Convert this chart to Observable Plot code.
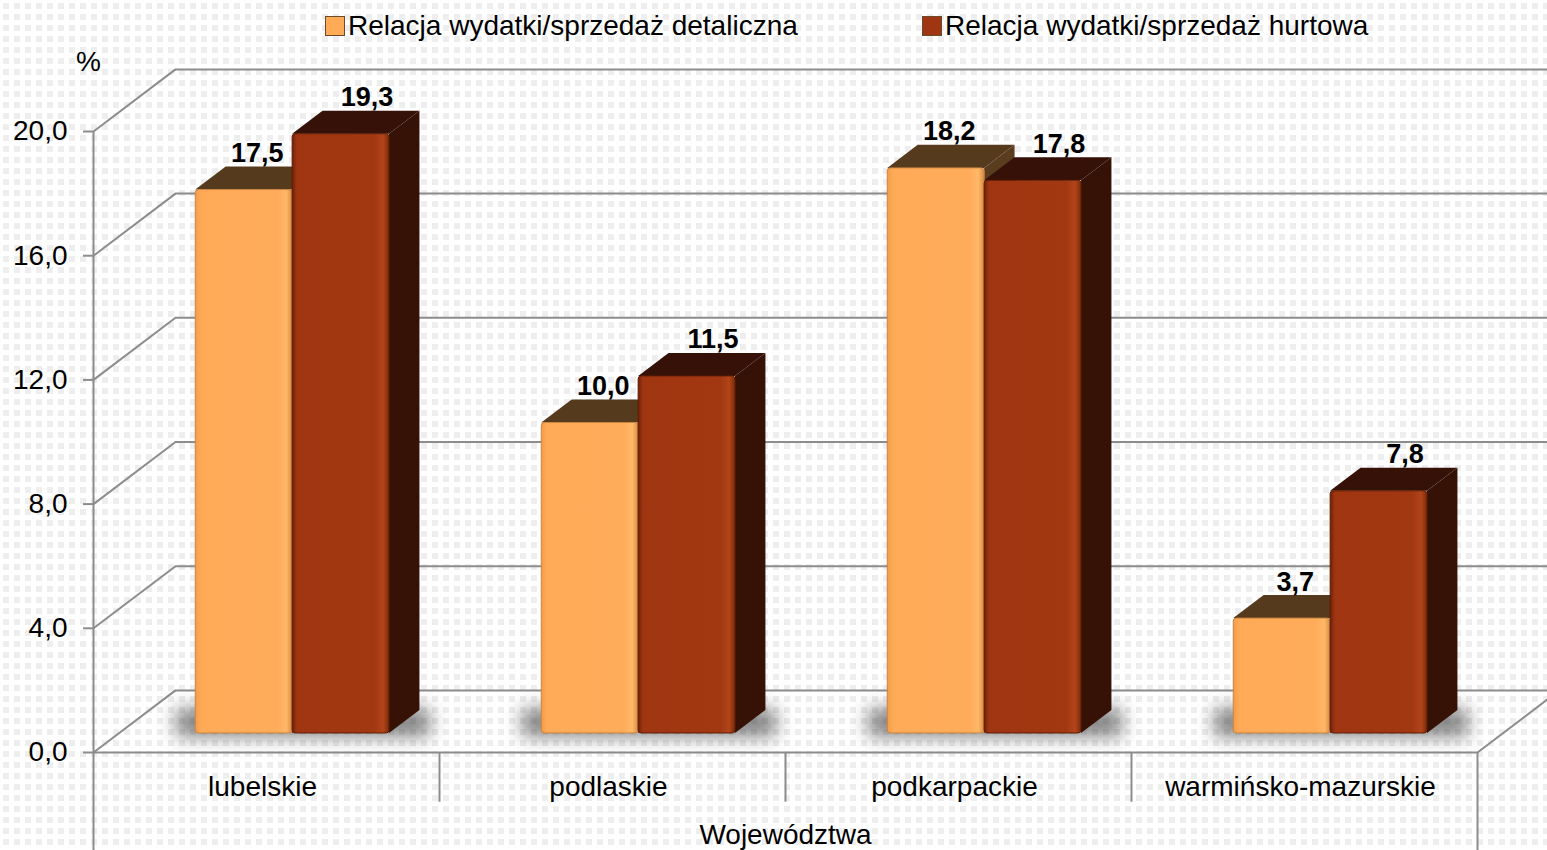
<!DOCTYPE html>
<html><head><meta charset="utf-8">
<script src="https://cdn.jsdelivr.net/npm/d3@7"></script>
<script src="https://cdn.jsdelivr.net/npm/@observablehq/plot@0.6"></script>
<style>
html,body{margin:0;padding:0;overflow:hidden;}
body{width:1547px;height:850px;background-color:#fff;
background-image:url("data:image/svg+xml;utf8,<svg xmlns='http://www.w3.org/2000/svg' width='11' height='11'><rect x='3' y='3' width='6' height='6' fill='%23eeeeee'/></svg>");
font-family:"Liberation Sans",Arial,sans-serif;}
#legend{position:relative;height:52px;}
.item{position:absolute;top:0;height:52px;display:flex;align-items:center;font-size:28px;color:#000;white-space:nowrap;}
.sw{width:20px;height:20px;margin-right:3px;box-sizing:border-box;border:1px solid #6b4a2a;}
</style></head><body>
<div id="legend"></div><div id="chart"></div>
<script>
// ---- data ----
const categories = ["lubelskie", "podlaskie", "podkarpackie", "warmińsko-mazurskie"];
const detaliczna = [17.5, 10.0, 18.2, 3.7];
const hurtowa = [19.3, 11.5, 17.8, 7.8];
const seriesNames = ["Relacja wydatki/sprzedaż detaliczna", "Relacja wydatki/sprzedaż hurtowa"];
const yTicks = [0, 4, 8, 12, 16, 20];
const yTickLabels = ["0,0", "4,0", "8,0", "12,0", "16,0", "20,0"];
const xTitle = "Województwa";
const yUnit = "%";

// ---- styling ----
const frontColors = ["url(#gOrange)", "url(#gMaroon)"];
const frontStroke = ["#c98440", "#5e1e06"];
const topColors = ["#563a1e", "#361107"];
const sideColors = ["#5a3c1e", "#361206"];
const legendColors = ["#ffaa57", "#a03611"];
const labelShift = [13, 26];
const gridColor = "#8c8c8c";
const FS = 28;

// 3D projection (oblique): depth z in [0,1]
const DX = 82 / 346, DY = 2.0;
const ZF = 0.306, ZB = 0.677;
const BAR_OFF = 0.223, BAR_W = 0.28;
const P = (x, y, z) => [x + z * DX, y + z * DY];

// legend
const legendEl = document.getElementById("legend");
[325, 922].forEach((left, s) => {
  const it = document.createElement("div");
  it.className = "item"; it.style.left = left + "px";
  const sw = document.createElement("div"); sw.className = "sw"; sw.style.background = legendColors[s];
  const t = document.createElement("span"); t.textContent = seriesNames[s];
  it.append(sw, t); legendEl.append(it);
});

// bars
const seriesVals = [detaliczna, hurtowa];
const bars = [];
seriesVals.forEach((vals, s) => vals.forEach((v, i) => {
  const x0 = i + BAR_OFF + s * BAR_W, x1 = x0 + BAR_W;
  bars.push({s, i, id: s + "-" + i, v, x0, x1, label: d3.format(".1f")(v).replace(".", ",")});
}));
const sidePts = bars.flatMap(b => [ZF, ZB].map(z => ({s: b.s, id: b.id, x: P(b.x1, 0, z)[0], ya: P(0, 0, z)[1], yb: P(0, b.v, z)[1]})));
const topPts = bars.flatMap(b => [ZF, ZB].map(z => ({s: b.s, id: b.id, y: P(0, b.v, z)[1], xa: P(b.x0, 0, z)[0], xb: P(b.x1, 0, z)[0]})));

const faceMarks = [];
const labelMarks = [];
[0, 1].forEach(s => {
  faceMarks.push(Plot.areaY(sidePts.filter(d => d.s === s), {x: "x", y1: "ya", y2: "yb", z: "id", fill: sideColors[s], curve: "linear"}));
  faceMarks.push(Plot.areaX(topPts.filter(d => d.s === s), {y: "y", x1: "xa", x2: "xb", z: "id", fill: topColors[s], curve: "linear"}));
  faceMarks.push(Plot.rect(bars.filter(d => d.s === s), {
    x1: d => P(d.x0, 0, ZF)[0], x2: d => P(d.x1, 0, ZF)[0],
    y1: d => P(0, 0, ZF)[1], y2: d => P(0, d.v, ZF)[1],
    fill: frontColors[s], stroke: frontStroke[s], strokeWidth: 1, rx: 3
  }));
  labelMarks.push(Plot.text(bars.filter(d => d.s === s), {
    x: d => P((d.x0 + d.x1) / 2, 0, ZF)[0], y: d => P(0, d.v, ZB)[1], text: "label",
    dx: labelShift[s], dy: -5, lineAnchor: "bottom", fontSize: 27, fontWeight: "bold", fill: "#000"
  }));
});

const catIdx = categories.map((c, i) => i);

const chart = Plot.plot({
  width: 1547, height: 798,
  marginLeft: 93, marginRight: 70, marginTop: 79, marginBottom: 98,
  x: {domain: [0, 4], axis: null},
  y: {domain: [0, 20], axis: null},
  style: {background: "transparent", fontFamily: "Liberation Sans, Arial, sans-serif", overflow: "visible"},
  marks: [
    Plot.ruleY(yTicks, {y: v => v + DY, x1: DX, x2: 4 + DX, stroke: gridColor, strokeWidth: 2}),
    Plot.link(yTicks, {x1: 0, y1: v => v, x2: DX, y2: v => v + DY, stroke: gridColor, strokeWidth: 2}),
    Plot.link([0], {x1: 4, y1: 0, x2: 4 + DX, y2: DY, stroke: gridColor, strokeWidth: 2}),
    Plot.ruleY([0], {x1: 0, x2: 4, stroke: gridColor, strokeWidth: 2}),
    Plot.ruleX([0], {y1: -3.4, y2: 20, stroke: gridColor, strokeWidth: 2}),
    Plot.ruleX([4], {y1: -3.4, y2: 0, stroke: gridColor, strokeWidth: 2}),
    Plot.ruleX([1, 2, 3], {y1: -1.6, y2: 0, stroke: gridColor, strokeWidth: 2}),
    Plot.axisY({ticks: yTicks, tickFormat: d => yTickLabels[yTicks.indexOf(d)], tickSize: 10, tickPadding: 16,
      fontSize: FS, stroke: gridColor, strokeWidth: 2, fill: "#000", label: null}),
    Plot.rect(catIdx, {
      x1: i => P(i + BAR_OFF, 0, ZF)[0] - 0.055, x2: i => P(i + BAR_OFF + 2 * BAR_W, 0, ZB)[0] + 0.03,
      y1: () => P(0, 0, ZF)[1] - 0.12, y2: () => P(0, 0, ZB)[1] + 0.05,
      fill: "#333", fillOpacity: 0.6, ariaDescription: "shadow"
    }),
    ...faceMarks,
    ...labelMarks,
    Plot.text(categories, {x: (d, i) => i + 0.5, y: 0, text: d => d, dy: 35, dx: -4, fontSize: FS, fill: "#000"}),
    Plot.text([xTitle], {x: 2, y: 0, text: d => d, dy: 83, fontSize: FS, fill: "#000"}),
    Plot.text([yUnit], {frameAnchor: "top-left", text: d => d, dx: -5, dy: -69, textAnchor: "middle", lineAnchor: "middle", fontSize: FS, fill: "#000"})
  ]
});

const defs = d3.select(chart).insert("defs", ":first-child");
const grad = (id, stops) => {
  const g = defs.append("linearGradient").attr("id", id).attr("x1", 0).attr("x2", 1).attr("y1", 0).attr("y2", 0);
  stops.forEach(([o, c]) => g.append("stop").attr("offset", o).attr("stop-color", c));
};
grad("gOrange", [[0, "#f29c4b"], [0.06, "#ffaa57"], [0.85, "#ffac5a"], [0.94, "#ffb868"], [1, "#d88a40"]]);
grad("gMaroon", [[0, "#6e2107"], [0.05, "#a03611"], [0.85, "#a23812"], [0.94, "#b24419"], [1, "#7a2a0a"]]);
d3.select(chart).selectAll('g[aria-description="shadow"]').style("filter", "blur(9px)");

document.getElementById("chart").append(chart);
</script></body></html>
